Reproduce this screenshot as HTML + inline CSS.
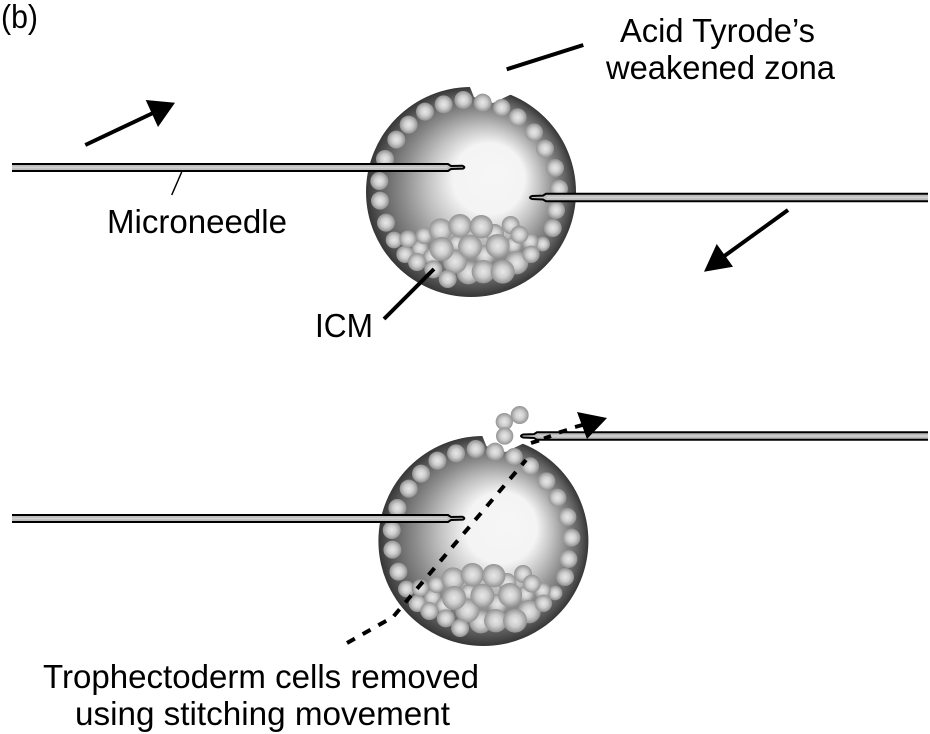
<!DOCTYPE html>
<html><head><meta charset="utf-8"><style>
html,body{margin:0;padding:0;background:#fff}
svg{display:block}
text{font-family:"Liberation Sans",sans-serif;font-size:33px;fill:#000}
</style></head><body>
<svg width="930" height="734" viewBox="0 0 930 734" xmlns="http://www.w3.org/2000/svg">
<defs>
<radialGradient id="s" gradientUnits="userSpaceOnUse" cx="471" cy="192" r="105" fx="498" fy="172">
<stop offset="0" stop-color="#f6f6f6"/><stop offset=".34" stop-color="#f4f4f4"/><stop offset=".54" stop-color="#c0c0c0"/><stop offset=".72" stop-color="#8c8c8c"/><stop offset=".88" stop-color="#626262"/><stop offset="1" stop-color="#363636"/>
</radialGradient>
<radialGradient id="c" cx=".5" cy=".5" r=".5">
<stop offset="0" stop-color="#e8e8e8"/><stop offset=".5" stop-color="#cecece"/><stop offset="1" stop-color="#929292"/>
</radialGradient>
<g id="sphere">
<circle cx="471" cy="192" r="105" fill="url(#s)"/>
<polygon points="469,80 469.5,86 474,97 493,103 512,94 516,80" fill="#fff"/>
<g transform="translate(350,70) scale(.33333)" fill="url(#c)">
<circle cx="398" cy="98" r="27"/><circle cx="340" cy="90" r="27"/><circle cx="281" cy="103" r="27"/><circle cx="225" cy="125" r="27"/><circle cx="176" cy="164" r="27"/><circle cx="139" cy="209" r="27"/><circle cx="105" cy="267" r="27"/><circle cx="88" cy="333" r="27"/><circle cx="90" cy="392" r="27"/><circle cx="108" cy="458" r="27"/><circle cx="132" cy="510" r="25"/>
<circle cx="455" cy="113" r="26"/><circle cx="503" cy="142" r="27"/><circle cx="552" cy="187" r="27"/><circle cx="585" cy="236" r="27"/><circle cx="615" cy="294" r="27"/><circle cx="627" cy="356" r="27"/><circle cx="618" cy="420" r="27"/><circle cx="608" cy="474" r="27"/><circle cx="578" cy="522" r="22"/>
<circle cx="165" cy="553" r="26"/><circle cx="210" cy="535" r="25"/><circle cx="222" cy="497" r="25"/><circle cx="540" cy="515" r="25"/><circle cx="434" cy="490" r="28"/><circle cx="320" cy="520" r="25"/><circle cx="490" cy="525" r="25"/><circle cx="405" cy="555" r="30"/><circle cx="245" cy="560" r="25"/>
<circle cx="355" cy="608" r="35"/><circle cx="315" cy="575" r="36"/><circle cx="174" cy="507" r="26"/><circle cx="272" cy="480" r="35"/><circle cx="330" cy="467" r="35"/><circle cx="394" cy="470" r="35"/><circle cx="482" cy="465" r="27"/><circle cx="275" cy="537" r="36"/><circle cx="360" cy="530" r="36"/><circle cx="500" cy="578" r="35"/><circle cx="443" cy="528" r="36"/><circle cx="508" cy="494" r="27"/><circle cx="543" cy="553" r="26"/><circle cx="201" cy="576" r="27"/><circle cx="250" cy="598" r="27"/><circle cx="293" cy="627" r="27"/><circle cx="400" cy="605" r="35"/><circle cx="458" cy="605" r="36"/>
</g>
</g>
<g id="ln">
<path d="M12 164H448L451 166L462 165.7Q466 167 463 168.6L451 169L448 171H12" fill="#bdbdbd" stroke="#000" stroke-width="2"/>
<line x1="12" y1="167.5" x2="447" y2="167.5" stroke="#d2d2d2" stroke-width="1.5"/>
</g>
</defs>

<use href="#sphere"/>
<use href="#sphere" x="12.4" y="349"/>
<g transform="translate(360,400) scale(.33333)" fill="url(#c)">
<circle cx="433" cy="65" r="26"/><circle cx="479" cy="45" r="27"/><circle cx="434" cy="108" r="26"/>
</g>

<use href="#ln"/>
<use href="#ln" y="351"/>
<path d="M928 193.8H546L543 195.6L532 196Q528 197.5 532 199L543 199.5L546 201.2H928" fill="#bdbdbd" stroke="#000" stroke-width="2"/>
<line x1="547" y1="197.5" x2="928" y2="197.5" stroke="#d2d2d2" stroke-width="1.5"/>
<path d="M928 432.3H537L534 434.1L523 434.5Q519 436 523 437.5L534 438L537 439.7H928" fill="#bdbdbd" stroke="#000" stroke-width="2"/>
<line x1="538" y1="436" x2="928" y2="436" stroke="#d2d2d2" stroke-width="1.5"/>

<line x1="181.7" y1="172" x2="171.7" y2="195" stroke="#000" stroke-width="1.5"/>
<line x1="85.3" y1="145" x2="153" y2="113" stroke="#000" stroke-width="4"/>
<polygon points="145.7,100 175,102.7 158,127" fill="#000"/>
<line x1="788" y1="210" x2="723" y2="257" stroke="#000" stroke-width="4"/>
<polygon points="716.7,244 733,266.7 704,271.7" fill="#000"/>
<line x1="506.7" y1="69.3" x2="583.3" y2="45" stroke="#000" stroke-width="4"/>
<line x1="384" y1="319" x2="434" y2="269" stroke="#000" stroke-width="4"/>

<path d="M347 643L393 617L526 460" fill="none" stroke="#000" stroke-width="4" stroke-dasharray="9 9"/>
<path d="M531 443L539 440.5M544 438.5L551 436M559 432.5L567 430" fill="none" stroke="#000" stroke-width="4"/>
<line x1="575" y1="427" x2="590" y2="423" stroke="#000" stroke-width="4"/>
<polygon points="577,412 607,418 587,439" fill="#000"/>

<text x="1" y="28" textLength="37" lengthAdjust="spacingAndGlyphs">(b)</text>
<text x="620" y="42" textLength="195" lengthAdjust="spacingAndGlyphs">Acid Tyrode’s</text>
<text x="606" y="79" textLength="229" lengthAdjust="spacingAndGlyphs">weakened zona</text>
<text x="107" y="233" textLength="180" lengthAdjust="spacingAndGlyphs">Microneedle</text>
<text x="315" y="337" textLength="58" lengthAdjust="spacingAndGlyphs">ICM</text>
<text x="43" y="688" textLength="436" lengthAdjust="spacingAndGlyphs">Trophectoderm cells removed</text>
<text x="75" y="725" textLength="375" lengthAdjust="spacingAndGlyphs">using stitching movement</text>
</svg>
</body></html>
